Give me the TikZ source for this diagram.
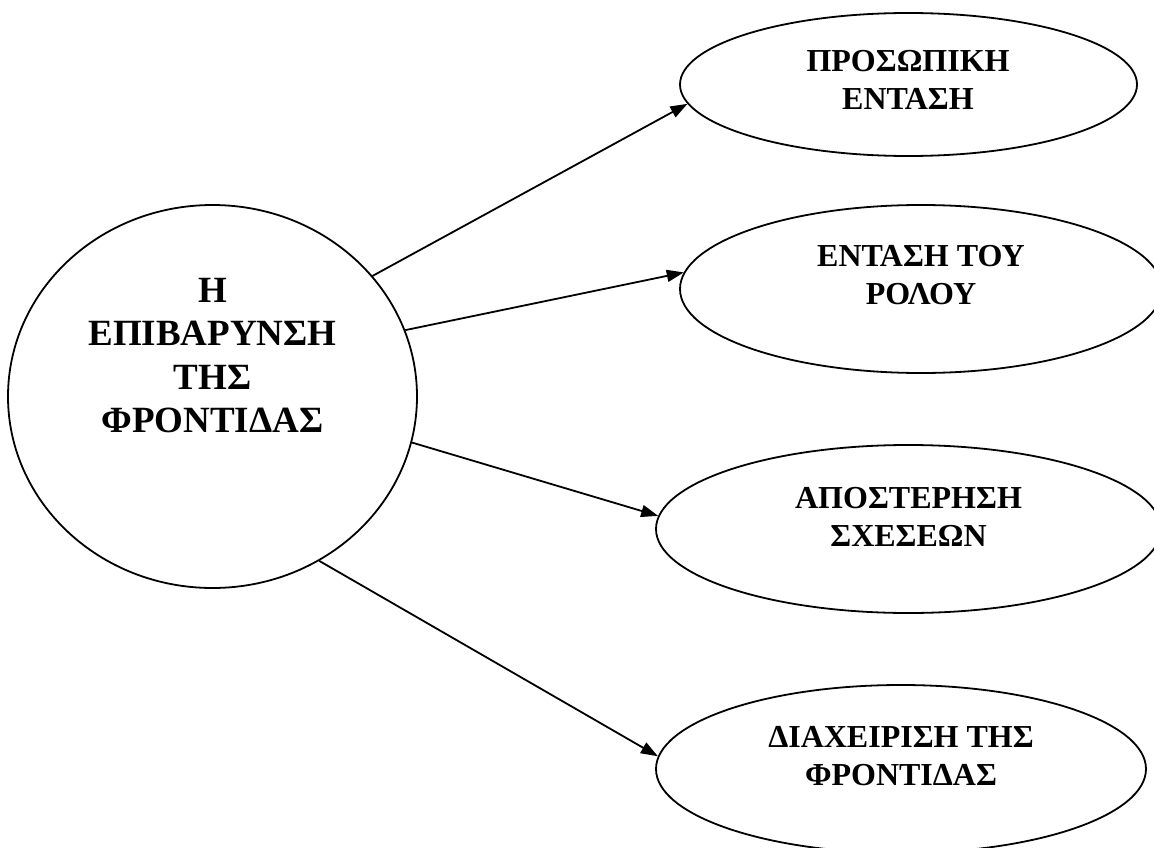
\documentclass[tikz,border=0pt]{standalone}
\usepackage{fontspec}
\setmainfont{Liberation Serif}
\usetikzlibrary{shapes.geometric,arrows.meta}
\tikzset{
  shp/.style={draw, ellipse, line width=1.8pt, inner sep=0pt},
  big/.style={font=\bfseries\fontsize{37}{43.5}\selectfont, align=center, inner sep=0pt},
  small/.style={font=\bfseries\fontsize{32}{38}\selectfont, align=center, inner sep=0pt},
  conn/.style={line width=1.8pt, -{Triangle[length=17pt,width=12pt]}}
}
\begin{document}
\begin{tikzpicture}[x=1pt,y=-1pt]
\useasboundingbox (0,0) rectangle (1154,848);
\clip (0,0) rectangle (1154,848);
\node[shp, minimum width=409pt, minimum height=383pt] (c) at (212.5,396.5) {};
\node[shp, minimum width=457pt, minimum height=143pt] (e1) at (908.5,84.5) {};
\node[shp, minimum width=482pt, minimum height=168pt] (e2) at (921,289) {};
\node[shp, minimum width=505pt, minimum height=168pt] (e3) at (908.5,529) {};
\node[shp, minimum width=490pt, minimum height=168pt] (e4) at (901,769) {};
\node[big] (tc) at (212.5,355.5) {Η\\ΕΠΙΒΑΡΥΝΣΗ\\ΤΗΣ\\ΦΡΟΝΤΙΔΑΣ};
\node[small] (t1) at (908,79.5) {ΠΡΟΣΩΠΙΚΗ\\ΕΝΤΑΣΗ};
\node[small] (t2) at (921,275.5) {ΕΝΤΑΣΗ ΤΟΥ\\ΡΟΛΟΥ};
\node[small] (t3) at (908.5,516.5) {ΑΠΟΣΤΕΡΗΣΗ\\ΣΧΕΣΕΩΝ};
\node[small] (t4) at (901,756.5) {ΔΙΑΧΕΙΡΙΣΗ ΤΗΣ\\ΦΡΟΝΤΙΔΑΣ};
\draw[conn] (c.37.8) -- (e1.185.9);
\draw[conn] (c.19.3) -- (e2.176.7);
\draw[conn] (c.-13.3) -- (e3.177.5);
\draw[conn] (c.-57.5) -- (e4.177.2);
\end{tikzpicture}
\end{document}
